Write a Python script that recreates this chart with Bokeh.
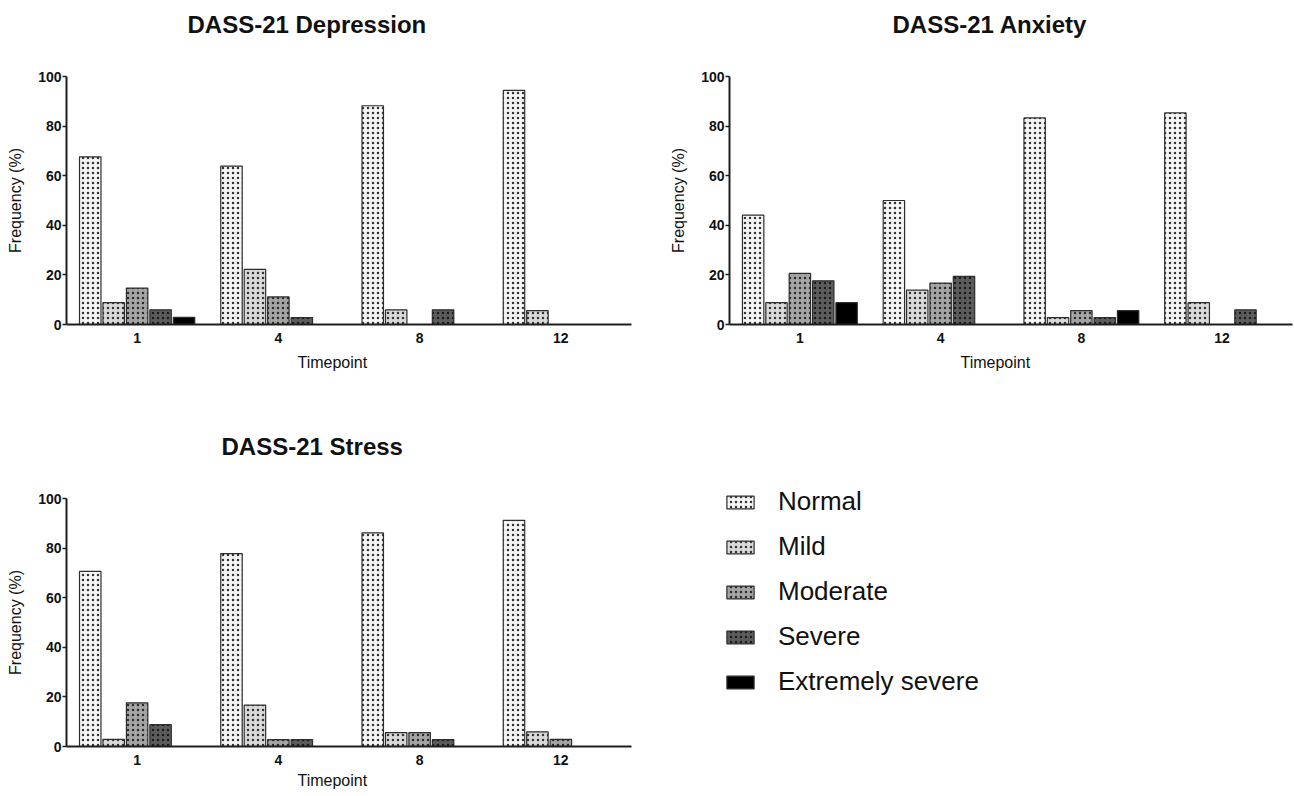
from bokeh.plotting import figure
from bokeh.models import ColumnDataSource, FactorRange, Range1d, Title, Legend, LegendItem
from bokeh.transform import dodge
from bokeh.layouts import row, column
from bokeh.embed import file_html
from bokeh.resources import INLINE

FONT = "Liberation Sans"

timepoints = ["1", "4", "8", "12"]
severities = ["Normal", "Mild", "Moderate", "Severe", "Extremely severe"]

dep_normal = [67.6, 63.9, 88.2, 94.4]
dep_mild = [8.8, 22.2, 5.9, 5.6]
dep_moderate = [14.7, 11.1, 0, 0]
dep_severe = [5.9, 2.8, 5.9, 0]
dep_extreme = [2.9, 0, 0, 0]

anx_normal = [44.1, 50.0, 83.3, 85.3]
anx_mild = [8.8, 13.9, 2.8, 8.8]
anx_moderate = [20.6, 16.7, 5.6, 0]
anx_severe = [17.6, 19.4, 2.8, 5.9]
anx_extreme = [8.8, 0, 5.6, 0]

str_normal = [70.6, 77.8, 86.1, 91.2]
str_mild = [2.9, 16.7, 5.6, 5.9]
str_moderate = [17.6, 2.8, 5.6, 2.9]
str_severe = [8.8, 2.8, 2.8, 0]
str_extreme = [0, 0, 0, 0]

y_ticks = [0, 20, 40, 60, 80, 100]

fills = ["#f6f6f6", "#d9d9d9", "#a4a4a4", "#5c5c5c", "#000000"]
hatch_colors = ["#333333", "#333333", "#2a2a2a", "#1a1a1a", "#000000"]
offsets = [-0.332, -0.166, 0.0, 0.166, 0.332]
BAR_W = 0.152
AX = "#1e1e1e"


def style_bar_kwargs(i):
    kw = dict(fill_color=fills[i], line_color="#2e2e2e", line_width=1.2)
    if i < 4:
        kw.update(hatch_pattern="dot", hatch_color=hatch_colors[i], hatch_scale=5, hatch_weight=1.1)
    return kw


def make_panel(title_text, title_offset, series, left_border, frame_w, right_border,
               bottom_border, tick_standoff, xlabel_standoff):
    p = figure(
        x_range=FactorRange(*timepoints, range_padding=0),
        y_range=Range1d(0, 100),
        frame_width=frame_w, frame_height=248,
        min_border_left=left_border, min_border_right=right_border,
        min_border_top=76, min_border_bottom=bottom_border,
        output_backend="svg", toolbar_location=None,
        title=None,
    )
    # spacer between title and frame, then the title itself (outermost)
    p.add_layout(Title(text=" ", text_font_size="1px", standoff=36), "above")
    p.add_layout(Title(text=title_text, align="left", offset=title_offset, text_font=FONT,
                       text_font_size="24px", text_font_style="bold", text_color="#111111",
                       standoff=0), "above")

    p.outline_line_color = None
    p.xgrid.visible = False
    p.ygrid.visible = False

    for i, vals in enumerate(series):
        xs = [t for t, v in zip(timepoints, vals) if v > 0]
        ys = [v for v in vals if v > 0]
        src = ColumnDataSource(dict(tp=xs, val=ys))
        p.vbar(x=dodge("tp", offsets[i], range=p.x_range), top="val", bottom=0,
               width=BAR_W, source=src, **style_bar_kwargs(i))

    ya = p.yaxis[0]
    ya.ticker = y_ticks
    ya.axis_label = "Frequency (%)"
    ya.axis_label_text_font = FONT
    ya.axis_label_text_font_size = "16px"
    ya.axis_label_text_font_style = "normal"
    ya.axis_label_text_color = "#111111"
    ya.axis_label_standoff = 11
    ya.major_label_text_font = FONT
    ya.major_label_text_font_size = "14px"
    ya.major_label_text_font_style = "bold"
    ya.major_label_text_color = "#111111"
    ya.major_label_standoff = 1
    ya.major_tick_out = 4
    ya.major_tick_in = 0
    ya.minor_tick_out = 0
    ya.minor_tick_in = 0
    ya.axis_line_width = 2
    ya.axis_line_color = AX
    ya.major_tick_line_width = 1.5
    ya.major_tick_line_color = AX

    xa = p.xaxis[0]
    xa.major_label_text_font = FONT
    xa.major_label_text_font_size = "14px"
    xa.major_label_text_font_style = "bold"
    xa.major_label_text_color = "#111111"
    xa.major_label_standoff = tick_standoff
    xa.major_tick_out = 0
    xa.major_tick_in = 0
    xa.minor_tick_out = 0
    xa.minor_tick_in = 0
    xa.axis_line_width = 2
    xa.axis_line_color = AX

    xt = Title(text="Timepoint", align="left", offset=231, text_font=FONT,
               text_font_size="16px", text_font_style="normal", text_color="#111111",
               standoff=xlabel_standoff)
    p.add_layout(xt, "below")
    return p


p1 = make_panel("DASS-21 Depression", 121,
                [dep_normal, dep_mild, dep_moderate, dep_severe, dep_extreme],
                66, 565, 36, 98, 8, 12)
p2 = make_panel("DASS-21 Anxiety", 163,
                [anx_normal, anx_mild, anx_moderate, anx_severe, anx_extreme],
                62, 563, 1, 98, 8, 12)
p3 = make_panel("DASS-21 Stress", 155,
                [str_normal, str_mild, str_moderate, str_severe, str_extreme],
                66, 565, 36, 48, 8, 4)

# legend panel: its own x range holds no timepoint, so the proxy bars draw nothing
p4 = figure(width=626, height=372, x_range=FactorRange("legend"), y_range=Range1d(0, 100),
            output_backend="svg", toolbar_location=None,
            min_border_left=0, min_border_right=0, min_border_top=76, min_border_bottom=48,
            x_axis_type=None, y_axis_type=None, title=None)
p4.outline_line_color = None
p4.grid.visible = False
stress_series = [str_normal, str_mild, str_moderate, str_severe, str_extreme]
items = []
for i, sev in enumerate(severities):
    src = ColumnDataSource(dict(tp=timepoints, val=stress_series[i]))
    r = p4.vbar(x="tp", top="val", bottom=0, width=BAR_W, source=src, **style_bar_kwargs(i))
    items.append(LegendItem(label=sev, renderers=[r]))
legend = Legend(items=items, location=(56, 49), glyph_width=34, glyph_height=16,
                label_text_font=FONT, label_text_font_size="26px", label_text_color="#111111",
                label_standoff=21, spacing=14, padding=0, margin=0,
                border_line_color=None, background_fill_alpha=0, label_height=16)
p4.add_layout(legend, "left")

layout = column(row(p1, p2), row(p3, p4))

open("out.html", "w").write(file_html(layout, INLINE))
